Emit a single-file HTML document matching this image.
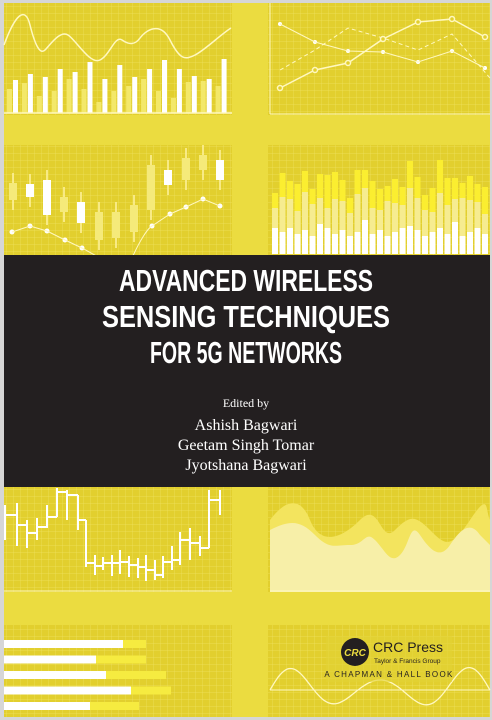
<!DOCTYPE html>
<html><head><meta charset="utf-8"><style>
html,body{margin:0;padding:0;background:#d9d9d9;}
svg{display:block}
</style></head><body>
<svg id="s" width="492" height="720" viewBox="0 0 492 720" xmlns="http://www.w3.org/2000/svg">
<defs>
<pattern id="g" width="7" height="7" patternUnits="userSpaceOnUse"><path d="M7 0V7H0" fill="none" stroke="#efe160" stroke-width="0.7"/></pattern>
</defs>
<rect x="0" y="0" width="492" height="720" fill="#d6d6d6"/>
<rect x="4" y="3" width="486" height="714" fill="#ebdc40"/>
<g id="panels"></g>
<g id="charts" fill="none" stroke="#fff8c0" stroke-width="1.5"></g>
<rect x="4" y="255" width="486" height="232" fill="#231f20"/>
<g font-family="'Liberation Sans Narrow','Liberation Sans',sans-serif" font-weight="bold" fill="#fff" font-size="31" text-anchor="middle">
<text x="246" y="291" textLength="254" lengthAdjust="spacingAndGlyphs">ADVANCED WIRELESS</text>
<text x="246" y="327" textLength="288" lengthAdjust="spacingAndGlyphs">SENSING TECHNIQUES</text>
<text x="246" y="363" textLength="192" lengthAdjust="spacingAndGlyphs">FOR 5G NETWORKS</text>
</g>
<g font-family="'Liberation Serif',serif" fill="#fff" text-anchor="middle">
<text x="246" y="407" font-size="12">Edited by</text>
<text x="246" y="430" font-size="16">Ashish Bagwari</text>
<text x="246" y="450" font-size="16">Geetam Singh Tomar</text>
<text x="246" y="470" font-size="16">Jyotshana Bagwari</text>
</g>
<rect x="326" y="636" width="126" height="46" fill="#e3d235" opacity="0.6"/>
<circle cx="355" cy="652" r="14" fill="#231f20"/>
<text x="355" y="656" font-family="'Liberation Sans',sans-serif" font-style="italic" font-weight="bold" font-size="10" fill="#ebdc40" text-anchor="middle">CRC</text>
<text x="373" y="652" font-family="'Liberation Sans',sans-serif" font-size="14" fill="#231f20">CRC Press</text>
<text x="374" y="663" font-family="'Liberation Sans',sans-serif" font-size="6.5" fill="#231f20">Taylor &amp; Francis Group</text>
<text x="389" y="677" font-family="'Liberation Sans',sans-serif" font-size="8" letter-spacing="1.3" fill="#231f20" text-anchor="middle">A CHAPMAN &amp; HALL BOOK</text>
</svg>
<script>
var NS="http://www.w3.org/2000/svg";
function el(p,t,a){var e=document.createElementNS(NS,t);for(var k in a)e.setAttribute(k,a[k]);p.appendChild(e);return e;}
var P=document.getElementById('panels'),C=document.getElementById('charts');
var panels=[[4,3,228,112],[268,3,222,112],[4,145,228,110],[268,145,222,110],[4,487,228,105],[268,487,222,105],[4,625,228,92],[268,625,222,92]];
panels.forEach(function(p){el(P,'rect',{x:p[0],y:p[1],width:p[2],height:p[3],fill:'#e2cf2e'});el(P,'rect',{x:p[0],y:p[1],width:p[2],height:p[3],fill:'url(#g)'});});
// TL bars
var tops=[80,74,77,69,72,62,79,65,77,69,60,69,76,79,59];
var ytops=[89,83,96,91,79,89,102,91,86,79,91,98,82,81,86];
tops.forEach(function(t,i){var x=13+i*14.9;
el(P,'rect',{x:x-6,y:ytops[i],width:5,height:113-ytops[i],fill:'#f3e86a'});
el(P,'rect',{x:x,y:t,width:5,height:113-t,fill:'#fff'});});
el(C,'line',{x1:4,y1:113,x2:232,y2:113});
el(C,'path',{d:'M4 45 C15 15,25 5,30 25 S40 55,45 50 S60 30,68 35 S90 65,100 60 S115 35,122 40 S135 45,140 38 S160 20,170 40 S185 60,195 55 S220 35,231 28'});
// TR lines
el(C,'line',{x1:270,y1:3,x2:270,y2:114,'stroke-width':1});
el(C,'line',{x1:270,y1:114,x2:490,y2:114,'stroke-width':1});
el(C,'polyline',{points:'280,88 315,70 348,63 383,39 418,22 452,19 485,37'});
el(C,'polyline',{points:'280,24 315,42 348,51 383,52 418,62 452,51 485,68','stroke-width':1});
el(C,'polyline',{points:'280,70 315,50 348,28 383,38 418,50 452,34 490,78','stroke-width':1,'stroke-dasharray':'4 3'});
[[280,88],[315,70],[348,63],[383,39],[418,22],[452,19],[485,37]].forEach(function(q){el(C,'circle',{cx:q[0],cy:q[1],r:2.5,fill:'#e2cf2e'});});
[[280,24],[315,42],[348,51],[383,52],[418,62],[452,51],[485,68]].forEach(function(q){el(P,'circle',{cx:q[0],cy:q[1],r:2,fill:'#fff'});});
// ML candles
var cs=[[13,195,183,200,1],[30,190,184,197,0],[47,205,180,215,0],[64,203,197,212,1],[81,210,202,223,0],[99,222,212,240,1],[116,225,212,238,1],[134,222,205,232,1],[151,190,165,210,1],[168,177,170,185,0],[186,170,158,180,1],[203,162,155,170,1],[220,170,160,180,0]];
cs.forEach(function(c){var x=c[0];el(P,'line',{x1:x,y1:c[2]-10,x2:x,y2:c[3]+10,stroke:'#fff2a0','stroke-width':1.5});
el(P,'rect',{x:x-4,y:c[2],width:8,height:c[3]-c[2],fill:c[4]?'#f5ea7a':'#fff'});});
el(C,'path',{d:'M12 232 L30 226 L47 231 L65 240 L82 248 L100 258 M132 258 C140 240,148 228,152 226 L170 214 L186 207 L203 199 L220 206','stroke-width':1});
[[12,232],[30,226],[47,231],[65,240],[82,248],[152,226],[170,214],[186,207],[203,199],[220,206]].forEach(function(q){el(P,'circle',{cx:q[0],cy:q[1],r:2.5,fill:'#fff'});});
// MR stacked bars
for(var i=0;i<29;i++){var x=272+i*7.5;var r=Math.sin(i*1.7)*0.5+Math.cos(i*0.9)*0.5;
var h1=18+((i*7)%5)*2+(i%6==0?8:0), h2=h1+20+((i*5)%7)*3, h3=h2+15+((i*3)%5)*3+(i==7||i==22?15:0);
el(P,'rect',{x:x,y:254-h3,width:6,height:h3,fill:'#fbee30'});
el(P,'rect',{x:x,y:254-h2,width:6,height:h2,fill:'#f6ec90'});
el(P,'rect',{x:x,y:254-h1,width:6,height:h1,fill:'#fff'});}
// BL step chart
var steps=[[5,515,505,540],[17,525,503,546],[27,533,520,548],[37,527,518,540],[47,517,505,528],[57,492,488,515],[67,495,490,520],[78,520,515,530],[86,563,522,567],[95,566,555,575],[103,563,557,570],[112,563,555,576],[120,562,550,574],[129,565,556,577],[138,567,558,578],[146,570,555,581],[155,575,560,580],[163,562,556,578],[172,560,546,570],[180,540,532,565],[190,543,528,560],[200,548,536,556],[209,500,490,522],[220,500,490,515]];
steps.forEach(function(s,i){el(P,'line',{x1:s[0],y1:s[2],x2:s[0],y2:s[3],stroke:'#fff','stroke-width':2});
if(i<steps.length-1){var n=steps[i+1];el(P,'line',{x1:s[0],y1:s[1],x2:n[0],y2:s[1],stroke:'#fff','stroke-width':2});el(P,'line',{x1:n[0],y1:s[1],x2:n[0],y2:n[1],stroke:'#fff','stroke-width':2});}});
el(C,'line',{x1:4,y1:591,x2:232,y2:591,'stroke-width':1});
// BR area waves
el(P,'path',{d:'M270 520 C285 500,300 495,310 520 S340 540,360 520 S380 545,395 530 S415 515,430 530 S450 550,470 520 S485 510,490 520 L490 592 L270 592Z',fill:'#f3e45e'});
el(P,'path',{d:'M270 530 C290 520,300 520,315 535 S335 545,350 545 S365 530,375 540 S390 565,400 555 S410 520,420 535 S440 560,450 545 S470 520,480 535 L490 545 L490 592 L270 592Z',fill:'#f7efa8'});
el(C,'line',{x1:270,y1:591,x2:490,y2:591,'stroke-width':1});
// bottom-left horizontal bars
[[4,123,146],[4,96,146],[4,106,166],[4,131,171],[4,90,139]].forEach(function(b,i){var y=640+i*15.5;
el(P,'rect',{x:4,y:y,width:b[2]-4,height:8,fill:'#f6eb40'});el(P,'rect',{x:4,y:y,width:b[1]-4,height:8,fill:'#fff'});});
// bottom-right sine
var d='M270 690';for(var x=270;x<=490;x+=2){var y=690-25*Math.sin((x-270)/14)*(0.7+0.3*Math.cos(x/40));d+=' L'+x+' '+y.toFixed(1);}
el(C,'path',{d:d,'stroke-width':1.3});
el(C,'line',{x1:270,y1:690,x2:490,y2:690,'stroke-width':1});
</script>
</body></html>
